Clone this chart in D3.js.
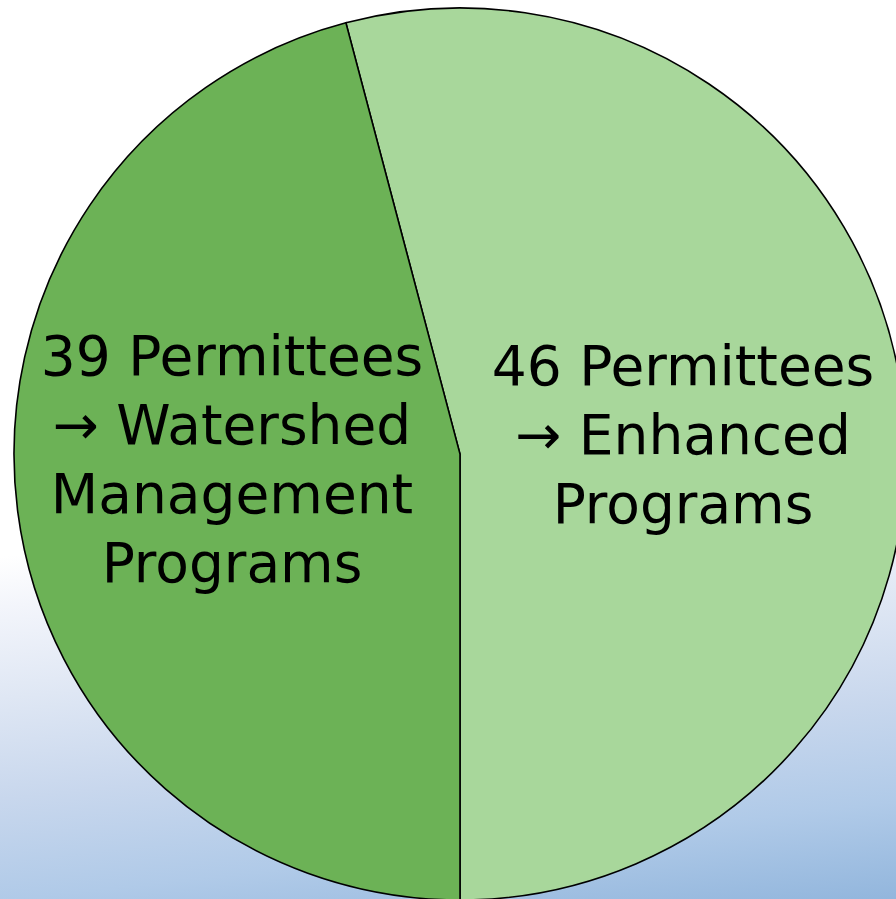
<!DOCTYPE html>
<html>
<head>
<meta charset="utf-8">
<script src="https://cdn.jsdelivr.net/npm/d3@7"></script>
<style>
  html, body { margin: 0; padding: 0; overflow: hidden; }
  svg { display: block; }
</style>
</head>
<body>
<div id="chart"></div>
<script>
// data
const categories = ["Enhanced Programs", "Watershed Management Programs"];
const counts = [46, 39];
const labelLines = [
  ["46 Permittees", "\u2192 Enhanced", "Programs"],
  ["39 Permittees", "\u2192 Watershed", "Management", "Programs"]
];
const sliceColors = ["#a8d79b", "#6cb256"];

const width = 896,
  height = 899;

const svg = d3.select("#chart")
  .append("svg")
  .attr("width", width)
  .attr("height", height)
  .attr("viewBox", [0, 0, width, height]);

// slide background: white on top fading into soft blue toward bottom right
const defs = svg.append("defs");
const grad = defs.append("linearGradient")
  .attr("id", "bg")
  .attr("gradientUnits", "userSpaceOnUse")
  .attr("x1", 0).attr("y1", 0)
  .attr("x2", 110).attr("y2", 1000);
[
  [0, "#ffffff"],
  [0.55, "#ffffff"],
  [0.6, "#f3f5fb"],
  [0.69, "#dfe7f4"],
  [0.79, "#c8d7ed"],
  [0.89, "#b0cae8"],
  [1, "#8eb3db"]
].forEach(([o, c]) => grad.append("stop").attr("offset", o).attr("stop-color", c));

svg.append("rect")
  .attr("width", width)
  .attr("height", height)
  .attr("fill", "url(#bg)");

const cx = 460, cy = 454, radius = 446;

// first slice ends at 6 o'clock, so start it back by its own extent minus pi
const total = d3.sum(counts);
const startAngle = Math.PI - (counts[0] / total) * 2 * Math.PI;

const pie = d3.pie()
  .sort(null)
  .startAngle(startAngle)
  .endAngle(startAngle + 2 * Math.PI);

const arc = d3.arc()
  .innerRadius(0)
  .outerRadius(radius);

const g = svg.append("g")
  .attr("transform", `translate(${cx},${cy})`);

const arcs = pie(counts);

g.selectAll("path")
  .data(arcs)
  .join("path")
  .attr("d", arc)
  .attr("fill", (d, i) => sliceColors[i])
  .attr("stroke", "#000")
  .attr("stroke-width", 1.6)
  .attr("stroke-linejoin", "miter");

// x centre and first baseline of each label block, relative to pie centre
const labelPos = [
  { x: 223, y: -69 },
  { x: -228, y: -79 }
];
const lineHeight = 69;

const labels = g.selectAll("text.label")
  .data(arcs)
  .join("text")
  .attr("class", "label")
  .attr("text-anchor", "middle")
  .attr("font-family", "'DejaVu Sans', sans-serif")
  .attr("font-size", 55)
  .attr("fill", "#000")
  .attr("transform", (d, i) => `translate(${labelPos[i].x},${labelPos[i].y})`);

labels.each(function (d, i) {
  d3.select(this).selectAll("tspan")
    .data(labelLines[i])
    .join("tspan")
    .attr("x", 0)
    .attr("y", (t, j) => j * lineHeight)
    .text(t => t);
});
</script>
</body>
</html>
